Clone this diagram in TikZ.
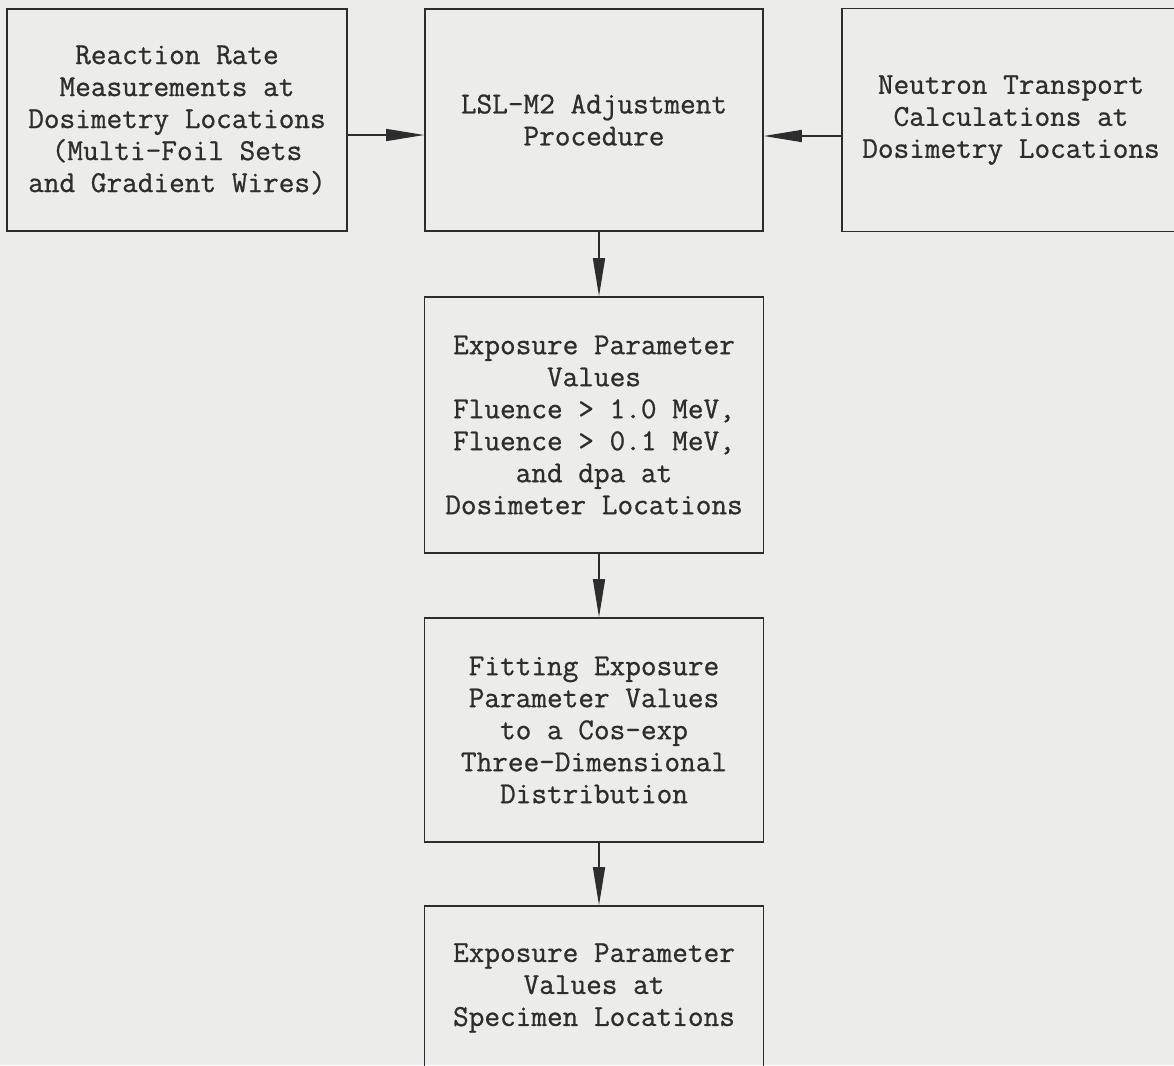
\documentclass[tikz,border=0pt]{standalone}
\usepackage{fontspec}
\setmonofont{Latin Modern Mono}[FakeBold=0.8]
\usetikzlibrary{arrows.meta}
\definecolor{paper}{RGB}{236,236,234}
\definecolor{ink}{RGB}{45,45,45}
\tikzset{
  stagebox/.style={draw=ink, line width=1.6pt, align=center, inner sep=0pt,
    text=ink, font=\ttfamily\fontsize{30.4pt}{32pt}\selectfont},
  flow/.style={draw=ink, line width=1.4pt, -{Triangle[length=38pt,width=12pt]}}
}
\begin{document}
\begin{tikzpicture}[x=1pt,y=-1pt]

	\fill[paper] (0,0) rectangle (1174,1065);
	\useasboundingbox (0,0) rectangle (1174,1065);

            % top row
            \node[stagebox, minimum width=340pt, minimum height=222pt] (meas) at (177,120)
              {Reaction Rate\\Measurements at\\Dosimetry Locations\\(Multi-Foil Sets\\and Gradient Wires)};
            \node[stagebox, minimum width=338pt, minimum height=222pt] (lsl) at (594,120)
              {LSL-M2 Adjustment\\Procedure};
            \node[stagebox, minimum width=338pt, minimum height=223pt] (trans) at (1011,120)
              {Neutron Transport\\Calculations at\\Dosimetry Locations};

            % column below the adjustment
            \node[stagebox, minimum width=339pt, minimum height=256pt] (expo) at (594,425)
              {Exposure Parameter\\Values\\Fluence > 1.0 MeV,\\Fluence > 0.1 MeV,\\and dpa at\\Dosimeter Locations};
            \node[stagebox, minimum width=339pt, minimum height=224pt] (fit) at (594,730)
              {Fitting Exposure\\Parameter Values\\to a Cos-exp\\Three-Dimensional\\Distribution};
            \node[stagebox, minimum width=339pt, minimum height=164pt] (spec) at (594,988)
              {Exposure Parameter\\Values at\\Specimen Locations};

            \draw[flow] ([yshift=-15pt]meas.east) -- ([yshift=-15pt]lsl.west);
            \draw[flow] ([yshift=-16pt]trans.west) -- ([yshift=-16pt]lsl.east);

            \foreach \a/\b in {lsl/expo, expo/fit, fit/spec}{
              \draw[flow] ([xshift=5pt]\a.south) -- ([xshift=5pt]\b.north);
            }

        \end{tikzpicture}
\end{document}
